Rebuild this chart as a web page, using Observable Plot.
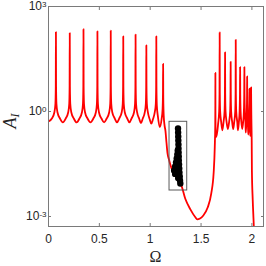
<!DOCTYPE html>
<html><head><meta charset="utf-8">
<script src="https://cdn.jsdelivr.net/npm/d3@7"></script>
<script src="https://cdn.jsdelivr.net/npm/@observablehq/plot@0.6"></script>
<style>html,body{margin:0;padding:0;background:#fff}svg{display:block}</style>
</head><body><div id="chart"></div>
<script>
// Red response curve (Omega, A_I)
const redOmega = [
0, 0.033, 0.058, 0.068, 0.0715, 0.073, 0.0745, 0.078, 0.088, 0.113,
0.141, 0.169, 0.194, 0.204, 0.2075, 0.209, 0.2105, 0.214, 0.224, 0.249,
0.2765, 0.304, 0.329, 0.339, 0.3425, 0.344, 0.3455, 0.349, 0.359, 0.384,
0.4125, 0.441, 0.466, 0.476, 0.4795, 0.481, 0.4825, 0.486, 0.496, 0.521,
0.5465, 0.572, 0.597, 0.607, 0.6105, 0.612, 0.6135, 0.617, 0.627, 0.652,
0.6735, 0.695, 0.72, 0.73, 0.7335, 0.735, 0.7365, 0.74, 0.75, 0.775,
0.7955, 0.816, 0.841, 0.851, 0.8545, 0.856, 0.8575, 0.861, 0.871, 0.891,
0.909, 0.927, 0.947, 0.957, 0.9605, 0.962, 0.9635, 0.967, 0.977, 0.995,
1.011, 1.027, 1.045, 1.055, 1.0585, 1.06, 1.0615, 1.065, 1.075, 1.094,
1.112, 1.122, 1.1255, 1.127, 1.1285, 1.133, 1.141, 1.15, 1.16, 1.17,
1.185, 1.2, 1.218, 1.25, 1.28, 1.306, 1.345, 1.395, 1.444, 1.462,
1.49, 1.52, 1.565, 1.6, 1.624, 1.635, 1.6395, 1.6405, 1.641, 1.6415,
1.644, 1.651, 1.668, 1.678, 1.6815, 1.683, 1.6845, 1.688, 1.698, 1.7095,
1.721, 1.731, 1.7345, 1.736, 1.7375, 1.741, 1.751, 1.7635,
1.776, 1.786, 1.7895, 1.791, 1.7925, 1.796, 1.806, 1.816,
1.826, 1.836, 1.8395, 1.841, 1.8425, 1.846, 1.856, 1.8625,
1.872, 1.879, 1.8825, 1.884, 1.8855, 1.889, 1.896, 1.905,
1.914, 1.921, 1.9245, 1.926, 1.9275, 1.931, 1.937, 1.9395,
1.945, 1.95, 1.9522, 1.953, 1.9538, 1.956, 1.961, 1.9645,
1.969, 1.973, 1.9752, 1.976, 1.9768, 1.979, 1.982, 1.984,
1.986, 1.989, 1.9912, 1.992, 1.9928, 1.995, 1.998, 2.0, 2.008, 2.017, 2.022
];
const redA = [
0.52, 0.63, 0.955, 1.66, 5.25, 186, 5.25, 1.66, 0.955, 0.63,
0.49, 0.63, 0.955, 1.66, 5.25, 174, 5.25, 1.66, 0.955, 0.63,
0.49, 0.63, 0.955, 1.66, 5.25, 224, 5.25, 1.66, 0.955, 0.63,
0.49, 0.63, 0.955, 1.66, 5.25, 195, 5.25, 1.66, 0.955, 0.63,
0.49, 0.63, 0.955, 1.66, 5.25, 204, 5.25, 1.66, 0.955, 0.63,
0.49, 0.63, 0.955, 1.66, 5.25, 141, 5.25, 1.66, 0.955, 0.63,
0.49, 0.63, 0.955, 1.66, 5.25, 158, 5.25, 1.66, 0.955, 0.63,
0.47, 0.63, 0.955, 1.66, 5.25, 78, 5.25, 1.66, 0.955, 0.6,
0.45, 0.6, 0.955, 1.66, 5.25, 141, 5.25, 1.5, 0.75, 0.36,
0.6, 1.2, 3.5, 22.9, 2.5, 0.75, 0.4, 0.28, 0.13, 0.065,
0.042, 0.029, 0.02, 0.0145, 0.0105, 0.0078, 0.0032, 0.0016, 0.00095, 0.00083,
0.00088, 0.00105, 0.0018, 0.0045, 0.018, 0.1, 0.4, 1.5, 12.6, 1.0,
0.25, 0.19, 0.45, 1.0, 3.16, 182, 3.16, 1.0, 0.5, 0.29,
0.5, 1.0, 3.16, 49, 3.16, 1.0, 0.5, 0.316,
0.5, 1.0, 3.16, 26.3, 3.16, 1.0, 0.5, 0.316,
0.5, 1.0, 3.16, 112, 3.16, 1.0, 0.5, 0.29,
0.5, 1.0, 3.16, 18.6, 3.16, 1.0, 0.5, 0.316,
0.5, 1.0, 3.16, 18.6, 3.16, 1.0, 0.45, 0.25,
0.45, 1.0, 3.0, 10, 3.0, 1.0, 0.4, 0.22,
0.4, 0.9, 2.2, 4.47, 2.2, 0.9, 0.35, 0.2,
0.35, 0.9, 2.2, 4.9, 2.2, 0.6, 0.15, 0.02, 0.003, 0.0007, 0.0003
];
// Black branch (Omega, A_I)
const blackOmega = [
1.2736, 1.2746, 1.2756, 1.2766, 1.2776, 1.2785, 1.2795, 1.2805, 1.2815, 1.2835, 1.2854, 1.2874, 1.2904, 1.2933, 1.2963,
1.2352, 1.2451, 1.2539, 1.2608, 1.2667, 1.2707, 1.2618, 1.245, 1.275
];
const blackA = [
0.327, 0.251, 0.193, 0.148, 0.114, 0.0877, 0.0675, 0.0518, 0.0398, 0.0306, 0.0235, 0.0181, 0.0139, 0.0107, 0.00877,
0.0206, 0.0268, 0.0349, 0.0454, 0.059, 0.0769, 0.0206, 0.0165, 0.0125
];
// Highlight box extent
const boxOmega = [1.190, 1.364];
const boxA = [0.00553, 0.508];
// Ticks
const xTicks = [0, 0.5, 1, 1.5, 2];
const yTicks = [1e-3, 1, 1e3];

const red = redOmega.map((x, i) => ({x, y: redA[i]}));
const black = blackOmega.map((x, i) => ({x, y: blackA[i]}));
const box = [{x1: boxOmega[0], x2: boxOmega[1], y1: boxA[0], y2: boxA[1]}];

const axisColor = "#7a7a7a";
const plot = Plot.plot({
  width: 266, height: 266,
  marginLeft: 48, marginRight: 3, marginTop: 6, marginBottom: 40,
  style: {fontFamily: "'Liberation Sans', Arial, sans-serif", fontSize: "12px", color: "#262626", background: "#fff", overflow: "visible"},
  x: {domain: [0, 2.114]},
  y: {type: "log", domain: [5.18e-4, 1000]},
  marks: [
    Plot.line(red, {x: "x", y: "y", stroke: "#ff0000", strokeWidth: 1.8, curve: "monotone-x", clip: true}),
    Plot.rect(box, {x1: "x1", x2: "x2", y1: "y1", y2: "y2", fill: "none", stroke: "#5a5a5a", strokeWidth: 1}),
    Plot.dot(black, {x: "x", y: "y", r: 3.2, fill: "#000", stroke: "none"}),
    Plot.frame({stroke: axisColor, strokeWidth: 1}),
    Plot.axisX({ticks: xTicks, anchor: "bottom", tickSize: 0, tickPadding: 8, label: null, tickFormat: d => String(d), fill: "#262626"}),
    Plot.axisX({ticks: xTicks, anchor: "bottom", tickSize: -3, tickFormat: () => "", label: null, stroke: axisColor}),
    Plot.axisX({ticks: xTicks, anchor: "top", tickSize: -3, tickFormat: () => "", label: null, stroke: axisColor}),
    Plot.axisY({ticks: yTicks, anchor: "left", tickSize: 0, tickPadding: 2, label: null, tickFormat: d => "E" + Math.round(Math.log10(d)), fill: "#262626"}),
    Plot.axisY({ticks: yTicks, anchor: "left", tickSize: -3, tickFormat: () => "", label: null, stroke: axisColor}),
    Plot.axisY({ticks: yTicks, anchor: "right", tickSize: -3, tickFormat: () => "", label: null, stroke: axisColor})
  ]
});
document.getElementById("chart").appendChild(plot);

const svg = d3.select(plot);
svg.selectAll("text").each(function() {
  const t = d3.select(this);
  const m = /^E(-?\d+)$/.exec(t.text());
  if (m) {
    t.text("10");
    t.append("tspan").attr("dy", "-3px").attr("font-size", "8px").text(m[1]);
  }
});
// Axis labels
svg.append("text")
  .attr("x", 155.5).attr("y", 262)
  .attr("text-anchor", "middle")
  .attr("font-family", "'Liberation Serif', 'DejaVu Serif', serif")
  .attr("font-size", "16px").attr("fill", "#262626")
  .text("Ω");
const yl = svg.append("text")
  .attr("transform", "translate(16,121) rotate(-90)")
  .attr("text-anchor", "middle")
  .attr("font-family", "'Liberation Serif', 'DejaVu Serif', serif")
  .attr("font-style", "italic")
  .attr("font-size", "18px").attr("fill", "#262626");
yl.append("tspan").text("A");
yl.append("tspan").attr("dy", "3").attr("font-size", "12px").text("I");
</script>
</body></html>
